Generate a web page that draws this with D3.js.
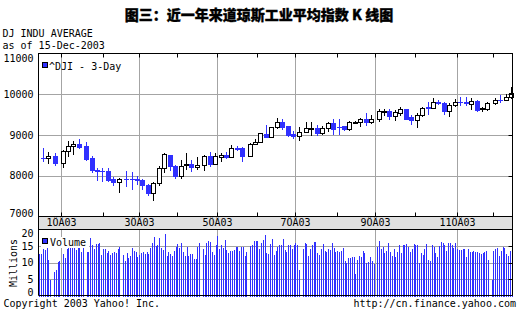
<!DOCTYPE html>
<html><head><meta charset="utf-8">
<script src="https://cdn.jsdelivr.net/npm/d3@7"></script>
<style>
html,body{margin:0;padding:0;background:#fff;}
svg{display:block;}
</style></head><body>
<svg id="c" width="522" height="315"></svg>
<script>
// ---------- data ----------
const title = "图三：近一年来道琼斯工业平均指数 K 线图";
const seriesName = "DJ INDU AVERAGE";
const asOf = "as of 15-Dec-2003";
const legendPrice = "^DJI - 3-Day";
const legendVolume = "Volume";
const volumeUnit = "Millions";
const copyright = "Copyright 2003 Yahoo! Inc.";
const siteUrl = "http://cn.finance.yahoo.com";

const firstDay = "2002-12-16";
const lastDay = "2003-12-15";
const holidays = ["2002-12-25","2003-01-01","2003-01-20","2003-02-17","2003-04-18",
                  "2003-05-26","2003-07-04","2003-09-01","2003-11-27"];

const priceTicks = [7000, 8000, 9000, 10000, 11000];
const priceGrid = [8000, 9000, 10000];
const volTicks = [0, 5, 10, 15, 20];
const volGrid = [5, 10, 15];
const monthLabelMonths = [0, 2, 4, 6, 8, 10];
const monthLabels = ["1ÔÂ03", "3ÔÂ03", "5ÔÂ03", "7ÔÂ03", "9ÔÂ03", "11ÔÂ03"];

// 3-day candles (84)
const open = [8440,8431,8488,8309,8602,8732,8780,8732,8440,8140,8125,8125,7918,7837,7930,7920,7910,7894,7780,7578,
  7830,8179,8512,8228,7984,8260,8293,8212,8260,8488,8293,8470,8520,8470,8670,8683,8496,8780,8838,9025,
  8959,9193,9323,9210,9016,8976,9081,9150,9170,9057,9162,9299,9200,9210,9137,9320,9323,9396,9323,9388,
  9590,9597,9460,9540,9645,9436,9372,9485,9678,9670,9806,9790,9597,9742,9810,9805,9760,9838,9645,9645,
  9780,9865,9862,9944];
const high = [8675,8577,8569,8634,8854,8854,8902,8829,8488,8179,8179,8179,7959,7943,8122,8081,8000,7918,7805,7845,
  8228,8569,8520,8268,8390,8553,8390,8472,8512,8577,8569,8569,8577,8756,8720,8700,8797,8895,9057,9244,
  9204,9420,9396,9218,9097,9193,9314,9314,9250,9218,9323,9396,9396,9218,9340,9355,9420,9541,9480,9645,
  9645,9645,9622,9678,9645,9500,9541,9678,9822,9903,9855,9806,9782,9887,9944,9944,9903,9862,9678,9806,
  9920,9983,10000,10183];
const low = [8350,8309,8252,8212,8496,8545,8675,8398,8081,7902,7878,7878,7764,7593,7740,7683,7800,7683,7537,7398,
  7764,8098,8146,7943,7943,8163,8105,8163,8146,8228,8285,8350,8431,8465,8630,8374,8488,8772,8822,8959,
  8943,9180,9138,8976,8936,8872,9081,9000,9000,9016,9097,9016,9016,9120,9113,9300,9218,9250,9290,9347,
  9500,9388,9372,9480,9396,9258,9193,9460,9516,9662,9750,9516,9460,9700,9725,9725,9640,9597,9597,9620,
  9770,9806,9862,9920];
const close = [8425,8480,8309,8602,8732,8780,8715,8423,8130,8128,8118,7902,7837,7918,7918,7912,7894,7764,7578,7829,
  8179,8537,8228,7984,8228,8293,8212,8268,8488,8293,8480,8520,8470,8675,8662,8488,8780,8838,9041,8959,
  9188,9323,9193,9000,8968,9081,9162,9170,9041,9162,9299,9137,9190,9137,9323,9330,9396,9323,9396,9580,
  9600,9460,9565,9645,9404,9372,9485,9662,9670,9806,9790,9597,9742,9806,9800,9795,9838,9620,9660,9782,
  9862,9855,9944,10024];

// daily volume, millions (one per trading day from firstDay)
const volDec02 = [12.5,12.5,14.2,13.8,17.5,10.9,4.7,7.0,7.6,10.3,10.6];
const volJan = [12.7,11.4,14.2,14.6,14.4,15.7,14.4,13.9,14.6,15.3,13.3,14.4,13.3,13.3,17.3,15.3,14.1,15.7,15.7,15.9,12.4];
const volFeb = [14.1,14.1,12.9,13.5,12.4,12.8,13.2,12.9,14.0,14.8,12.4,10.6,12.8,11.5,12.0,14.4,13.6,13.1,11.6];
const volMar = [12.4,12.8,13.1,12.6,13.1,12.6,14.3,16.0,17.8,15.1,15.3,17.5,14.4,13.8,18.7,12.1,13.1,12.6,12.1,13.5,14.8];
const volApr = [15.6,14.4,15.8,13.3,12.1,14.8,12.1,12.7,12.7,11.1,11.1,14.6,15.8,14.1,12.2,16.0,16.4,16.2,13.3,12.3,15.4];
const volMay = [17.9,14.0,15.4,14.4,16.8,13.8,13.0,13.6,13.6,13.8,14.8,14.8,13.6,14.8,14.6,12.1,13.2,15.0,15.4,16.4,16.6];
const volJun = [16.4,14.1,15.8,16.8,18.2,13.0,12.6,15.6,17.0,12.4,13.6,14.8,15.2,15.2,17.0,13.8,13.3,15.4,15.2,14.2,15.4];
const volJul = [15.8,15.2,7.6,14.1,16.0,15.6,12.1,14.1,15.4,16.2,16.2,13.0,12.3,14.1,15.6,13.6,13.2,14.0,13.8,16.0,14.5,13.1];
const volAug = [13.6,13.3,13.4,14.4,10.4,10.0,11.4,11.4,11.8,11.8,6.4,10.8,12.1,11.8,13.6,12.8,9.9,10.2,11.6,10.5,9.5];
const volSep = [14.6,16.6,14.1,14.8,13.0,13.6,15.8,13.2,12.1,14.0,11.6,13.2,15.2,12.8,15.4,15.2,15.6,14.6,13.3,14.2,15.6];
const volOct = [15.4,15.4,10.0,12.8,12.3,14.2,15.6,10.9,10.4,15.2,14.8,13.0,11.6,15.0,16.2,15.8,15.2,13.6,16.0,15.8,15.2,14.5,15.8];
const volNov = [14.0,13.8,13.8,14.1,14.1,11.8,14.0,13.3,13.3,13.6,13.3,13.1,12.8,12.5,13.0,13.2,13.5,10.9,4.7];
const volDec03 = [13.6,14.1,14.4,12.0,13.6,14.6,14.4,12.5,12.0,13.4,15.0];
const volume = [].concat(volDec02, volJan, volFeb, volMar, volApr, volMay, volJun, volJul, volAug, volSep, volOct, volNov, volDec03);

// ---------- styles ----------
const BLUE = "#3030ff", GRID = "#a4a4a4", BAND = "#e0e0e0";
const MONO = "'DejaVu Sans Mono', 'Liberation Mono', monospace";
const L = 38.5, R = 512.5, PT = 53.5, PB = 216.5, BB = 229.5, VB = 295.5;

// ---------- calendar ----------
const parse = d3.timeParse("%Y-%m-%d");
const fmt = d3.timeFormat("%Y-%m-%d");
const weekdays = d3.timeDay.range(parse(firstDay), d3.timeDay.offset(parse(lastDay), 1))
  .filter(d => d.getDay() !== 0 && d.getDay() !== 6);
const slotOf = new Map(weekdays.map((d, i) => [fmt(d), i]));
const hol = new Set(holidays);
const tradingDays = weekdays.filter(d => !hol.has(fmt(d)));

const x = d3.scaleLinear().domain([-0.5, weekdays.length - 0.5]).range([L, R]);
const y = d3.scaleLinear().domain([7000, 11000]).range([PB, PT]);
const yv = d3.scaleLinear().domain([0, 20]).range([VB, BB]);

const months = d3.timeMonth.range(parse("2003-01-01"), parse("2003-12-02")).map(m => {
  let d = m;
  while (d.getDay() === 0 || d.getDay() === 6) d = d3.timeDay.offset(d, 1);
  return { month: m.getMonth(), slot: slotOf.get(fmt(d)) };
});
const px = s => Math.round(x(s)) + 0.5;

const svg = d3.select("#c");
svg.append("rect").attr("width", 522).attr("height", 315).attr("fill", "#fff");

// title & header
svg.append("text").attr("x", 259).attr("y", 20).attr("text-anchor", "middle")
  .attr("font-family", "'Noto Sans CJK SC', sans-serif").attr("font-weight", 900)
  .attr("font-size", 14).attr("stroke", "#000").attr("stroke-width", 0.35).text(title);
const hdr = svg.append("g").attr("font-family", MONO).attr("font-size", 10);
hdr.append("text").attr("x", 2.5).attr("y", 37).text(seriesName);
hdr.append("text").attr("x", 2.5).attr("y", 49).text(asOf);

// band
svg.append("rect").attr("x", L).attr("y", PB).attr("width", R - L).attr("height", BB - PB)
  .attr("fill", BAND).attr("stroke", "#000");

// grid lines
const grid = svg.append("g").attr("stroke", GRID).attr("stroke-width", 1);
grid.selectAll(".hp").data(priceGrid).join("line")
  .attr("x1", L).attr("x2", R).attr("y1", d => Math.round(y(d)) + 0.5).attr("y2", d => Math.round(y(d)) + 0.5);
grid.selectAll(".hv").data(volGrid).join("line").attr("class", "hv")
  .attr("x1", L).attr("x2", R).attr("y1", d => Math.round(yv(d)) + 0.5).attr("y2", d => Math.round(yv(d)) + 0.5);
const gm = months.filter(m => monthLabelMonths.includes(m.month));
grid.selectAll(".vp").data(gm).join("line").attr("class", "vp")
  .attr("x1", d => px(d.slot)).attr("x2", d => px(d.slot)).attr("y1", PT).attr("y2", PB);
grid.selectAll(".vv").data(gm).join("line").attr("class", "vv")
  .attr("x1", d => px(d.slot)).attr("x2", d => px(d.slot)).attr("y1", BB).attr("y2", VB);

// volume bars
svg.append("g").selectAll("rect").data(volume).join("rect")
  .attr("x", (v, i) => Math.round(x(slotOf.get(fmt(tradingDays[i])))))
  .attr("width", 1)
  .attr("y", v => Math.round(yv(v)))
  .attr("height", v => Math.round(yv(0)) - Math.round(yv(v)) + 1)
  .attr("fill", BLUE);

// candles
const candles = open.map((o, j) => ({
  o, h: high[j], l: low[j], c: close[j],
  slot: slotOf.get(fmt(tradingDays[3 * j + 2]))
}));
const cg = svg.append("g");
candles.forEach(d => {
  const cx = Math.floor(x(d.slot));
  const up = d.c >= d.o;
  const col = up ? "#000" : BLUE;
  cg.append("line").attr("x1", cx + 0.5).attr("x2", cx + 0.5)
    .attr("y1", Math.round(y(d.h))).attr("y2", Math.round(y(d.l)) + 1)
    .attr("stroke", col).attr("stroke-width", 1);
  const t = Math.round(y(Math.max(d.o, d.c))), b = Math.round(y(Math.min(d.o, d.c)));
  if (up) {
    cg.append("rect").attr("x", cx - 1.5).attr("width", 4)
      .attr("y", t + 0.5).attr("height", Math.max(1, b - t))
      .attr("fill", "#fff").attr("stroke", "#000").attr("stroke-width", 1);
  } else {
    cg.append("rect").attr("x", cx - 2).attr("width", 5)
      .attr("y", t).attr("height", Math.max(1, b - t + 1))
      .attr("fill", BLUE);
  }
});

// frames
const fr = svg.append("g").attr("stroke", "#000").attr("fill", "none");
fr.append("rect").attr("x", L).attr("y", PT).attr("width", R - L).attr("height", PB - PT);
fr.append("line").attr("x1", L).attr("x2", L).attr("y1", BB).attr("y2", VB);
fr.append("line").attr("x1", R).attr("x2", R).attr("y1", BB).attr("y2", VB);
fr.append("line").attr("x1", L).attr("x2", R).attr("y1", VB).attr("y2", VB);
fr.append("rect").attr("x", L).attr("y", PB).attr("width", R - L).attr("height", BB - PB);
// month ticks
fr.selectAll(".tt").data(months).join("line").attr("class", "tt")
  .attr("x1", d => px(d.slot)).attr("x2", d => px(d.slot)).attr("y1", PT).attr("y2", PT + 4);
fr.selectAll(".tb").data(months).join("line").attr("class", "tb")
  .attr("x1", d => px(d.slot)).attr("x2", d => px(d.slot)).attr("y1", PB - 4).attr("y2", PB);
// right ticks
fr.selectAll(".rp").data(priceGrid).join("line").attr("class", "rp")
  .attr("x1", R - 4).attr("x2", R).attr("y1", d => Math.round(y(d)) + 0.5).attr("y2", d => Math.round(y(d)) + 0.5);
fr.selectAll(".rv").data(volGrid).join("line").attr("class", "rv")
  .attr("x1", R - 4).attr("x2", R).attr("y1", d => Math.round(yv(d)) + 0.5).attr("y2", d => Math.round(yv(d)) + 0.5);

// axes labels
const gy = svg.append("g").attr("transform", `translate(${L},0)`)
  .call(d3.axisLeft(y).tickValues(priceTicks).tickSize(0).tickPadding(5).tickFormat(d3.format("d")));
gy.attr("font-family", MONO).attr("font-size", 10);
gy.select(".domain").remove();
gy.selectAll("text").attr("dy", d => d === 11000 ? "0.75em" : d === 7000 ? "0em" : "0.32em");

const gv = svg.append("g").attr("transform", `translate(${L},0)`)
  .call(d3.axisLeft(yv).tickValues(volTicks).tickSize(0).tickPadding(5).tickFormat(d3.format("d")));
gv.attr("font-family", MONO).attr("font-size", 10);
gv.select(".domain").remove();
gv.selectAll("text").attr("dy", d => d === 20 ? "0.72em" : d === 0 ? "0em" : "0.32em");

const gx = svg.append("g").attr("font-family", MONO).attr("font-size", 10).attr("text-anchor", "middle");
gx.selectAll("text").data(gm).join("text")
  .attr("x", d => px(d.slot)).attr("y", 226)
  .text(d => monthLabels[monthLabelMonths.indexOf(d.month)]);

// legends
svg.append("rect").attr("x", 42.5).attr("y", 62.5).attr("width", 5).attr("height", 5)
  .attr("fill", BLUE).attr("stroke", "#000");
svg.append("text").attr("x", 49).attr("y", 70).attr("font-family", MONO).attr("font-size", 10).text(legendPrice);
svg.append("rect").attr("x", 41).attr("y", 237).attr("width", 48).attr("height", 11).attr("fill", "#fff");
svg.append("rect").attr("x", 42.5).attr("y", 238.5).attr("width", 5).attr("height", 5)
  .attr("fill", BLUE).attr("stroke", "#000");
svg.append("text").attr("x", 50).attr("y", 246).attr("font-family", MONO).attr("font-size", 10).text(legendVolume);

svg.append("text").attr("transform", "translate(16.5,263) rotate(-90)").attr("text-anchor", "middle")
  .attr("font-family", MONO).attr("font-size", 10).text(volumeUnit);

svg.append("text").attr("x", 3.5).attr("y", 307).attr("font-family", MONO).attr("font-size", 10).text(copyright);
svg.append("text").attr("x", 516).attr("y", 307).attr("text-anchor", "end")
  .attr("font-family", MONO).attr("font-size", 10).text(siteUrl);
</script>
</body></html>
